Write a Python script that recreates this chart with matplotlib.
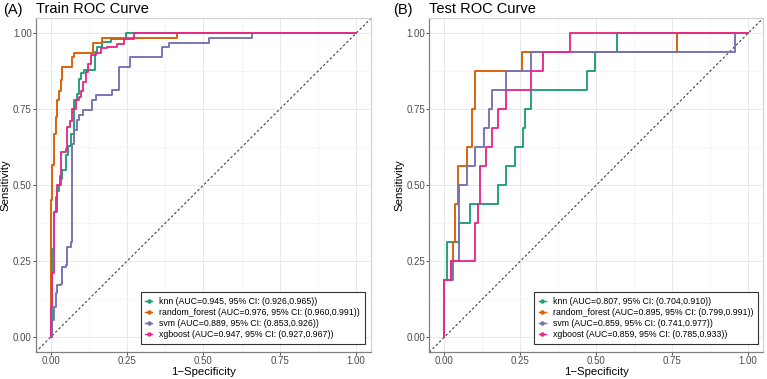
import matplotlib
matplotlib.use("Agg")
import matplotlib.pyplot as plt
from matplotlib.lines import Line2D
from matplotlib.ticker import MultipleLocator

plt.rcParams['font.family'] = ['Liberation Sans', 'DejaVu Sans']

models = ['knn', 'random_forest', 'svm', 'xgboost']
colors = ['#1B9E77', '#D95F02', '#7570B3', '#E7298A']

# ---- Train ROC (step corner points: x where the vertical rise occurs, top y) ----
train_knn_fpr = [0, 0.005, 0.011, 0.022, 0.027, 0.033, 0.038, 0.049, 0.058, 0.065, 0.076, 0.087,
                 0.093, 0.098, 0.109, 0.145, 0.153, 0.169, 0.198, 0.248, 1.0]
train_knn_tpr = [0, 0.29, 0.41, 0.48, 0.50, 0.52, 0.55, 0.60, 0.63, 0.67, 0.78, 0.80,
                 0.85, 0.87, 0.878, 0.938, 0.955, 0.971, 0.982, 1.0, 1.0]

train_rf_fpr = [0, 0, 0.003, 0.009, 0.016, 0.022, 0.027, 0.035, 0.038, 0.071, 0.076, 0.138, 0.167, 0.412, 1.0]
train_rf_tpr = [0, 0.45, 0.566, 0.67, 0.725, 0.78, 0.81, 0.845, 0.889, 0.922, 0.936, 0.968, 0.986, 1.0, 1.0]

train_svm_fpr = [0, 0.005, 0.011, 0.016, 0.022, 0.033, 0.038, 0.049, 0.054, 0.065, 0.068, 0.076, 0.087,
                 0.093, 0.104, 0.136, 0.147, 0.202, 0.225, 0.259, 0.365, 0.387, 0.517, 0.659, 1.0]
train_svm_tpr = [0, 0.056, 0.10, 0.144, 0.171, 0.176, 0.231, 0.237, 0.297, 0.313, 0.637, 0.68, 0.714,
                 0.73, 0.749, 0.78, 0.796, 0.812, 0.889, 0.922, 0.955, 0.968, 0.986, 1.0, 1.0]

train_xgb_fpr = [0, 0, 0.005, 0.011, 0.016, 0.022, 0.030, 0.035, 0.049, 0.054, 0.062, 0.071, 0.082,
                 0.092, 0.098, 0.105, 0.114, 0.122, 0.131, 0.147, 0.163, 0.185, 0.218, 0.240, 0.272, 1.0]
train_xgb_tpr = [0, 0.10, 0.21, 0.41, 0.46, 0.50, 0.53, 0.61, 0.62, 0.69, 0.71, 0.75, 0.78,
                 0.79, 0.81, 0.84, 0.873, 0.90, 0.928, 0.935, 0.95, 0.955, 0.966, 0.982, 1.0, 1.0]

train_labels = [
    'knn (AUC=0.945, 95% CI: (0.926,0.965))',
    'random_forest (AUC=0.976, 95% CI: (0.960,0.991))',
    'svm (AUC=0.889, 95% CI: (0.853,0.926))',
    'xgboost (AUC=0.947, 95% CI: (0.927,0.967))',
]

# ---- Test ROC ----
test_knn_fpr = [0, 0, 0.007, 0.047, 0.083, 0.175, 0.204, 0.231, 0.259, 0.266, 0.285, 0.469, 0.497, 0.57, 1.0]
test_knn_tpr = [0, 0.1875, 0.3125, 0.375, 0.4375, 0.5, 0.5625, 0.625, 0.6875, 0.75, 0.8125, 0.875, 0.9375, 1.0, 1.0]

test_rf_fpr = [0, 0, 0.02, 0.027, 0.036, 0.044, 0.075, 0.091, 0.099, 0.255, 0.765, 1.0]
test_rf_tpr = [0, 0.1875, 0.25, 0.3125, 0.4375, 0.5625, 0.625, 0.75, 0.875, 0.9375, 1.0, 1.0]

test_svm_fpr = [0, 0, 0.027, 0.047, 0.075, 0.102, 0.129, 0.146, 0.157, 0.204, 0.285, 0.957, 1.0]
test_svm_tpr = [0, 0.1875, 0.25, 0.5, 0.5625, 0.625, 0.6875, 0.75, 0.8125, 0.875, 0.9375, 1.0, 1.0]

test_xgb_fpr = [0, 0, 0.02, 0.102, 0.11, 0.118, 0.138, 0.157, 0.175, 0.204, 0.285, 0.325, 0.414, 1.0]
test_xgb_tpr = [0, 0.1875, 0.25, 0.375, 0.4375, 0.5625, 0.625, 0.6875, 0.75, 0.8125, 0.875, 0.9375, 1.0, 1.0]

test_labels = [
    'knn (AUC=0.807, 95% CI: (0.704,0.910))',
    'random_forest (AUC=0.895, 95% CI: (0.799,0.991))',
    'svm (AUC=0.859, 95% CI: (0.741,0.977))',
    'xgboost (AUC=0.859, 95% CI: (0.785,0.933))',
]

ticks = [0.0, 0.25, 0.5, 0.75, 1.0]
tick_labels = ['0.00', '0.25', '0.50', '0.75', '1.00']

W, H = 767, 379
fig = plt.figure(figsize=(W / 100, H / 100), dpi=100)

def px_axes(x0, x1, ytop, ybot):
    return fig.add_axes([x0 / W, 1 - ybot / H, (x1 - x0) / W, (ybot - ytop) / H])

axA = px_axes(35.5, 371.3, 18.1, 352.2)
axB = px_axes(429.3, 763.2, 18.1, 352.2)

def style(ax, title, tag, tag_x, curves, labels, leg_x):
    ax.set_xlim(-0.05, 1.05)
    ax.set_ylim(-0.05, 1.05)
    ax.set_xticks(ticks)
    ax.set_xticklabels(tick_labels)
    ax.set_yticks(ticks)
    ax.set_yticklabels(tick_labels)
    ax.xaxis.set_minor_locator(MultipleLocator(0.125))
    ax.yaxis.set_minor_locator(MultipleLocator(0.125))
    ax.grid(which='major', color='#e9e9e9', lw=0.7)
    ax.grid(which='minor', color='#f1f1f1', lw=0.5)
    ax.set_axisbelow(True)
    ax.tick_params(which='major', length=2.2, width=0.6, color='#333333',
                   labelsize=7, labelcolor='#4d4d4d', pad=0.6)
    ax.tick_params(which='minor', length=0)
    for s in ['left', 'bottom']:
        ax.spines[s].set_color('#808080')
        ax.spines[s].set_linewidth(0.9)
    for s in ['top', 'right']:
        ax.spines[s].set_color('#cfcfcf')
        ax.spines[s].set_linewidth(0.8)
    ax.set_xlabel('1\u2212Specificity', fontsize=8.2, labelpad=0.5)
    ax.set_ylabel('Sensitivity', fontsize=8.2, labelpad=1.5)
    ax.set_title(title, loc='left', fontsize=10.5, pad=4)
    fig.text(tag_x / W, 1 - 14 / H, tag, fontsize=10.5, ha='left', va='baseline')
    # diagonal reference
    ax.plot([-0.05, 1.05], [-0.05, 1.05], color='#404040', lw=0.8,
            linestyle=(0, (2.2, 2.0)), zorder=2)
    handles = []
    for (fx, ty), c, lab in zip(curves, colors, labels):
        ax.step(fx, ty, where='post', color=c, lw=1.35, zorder=3)
        handles.append(Line2D([0], [0], color=c, lw=1.0, marker='o', markersize=2.2))
    leg = ax.legend(handles, labels, loc='lower right', bbox_to_anchor=(leg_x, 0.0245),
                    borderaxespad=0, fontsize=6.3, frameon=True, fancybox=False,
                    edgecolor='#333333', framealpha=1, numpoints=1,
                    handlelength=0.8, handletextpad=0.8, labelspacing=0.25,
                    borderpad=0.55)
    leg.get_frame().set_linewidth(0.8)

style(axA, 'Train ROC Curve', '(A)', 3.5,
      [(train_knn_fpr, train_knn_tpr), (train_rf_fpr, train_rf_tpr),
       (train_svm_fpr, train_svm_tpr), (train_xgb_fpr, train_xgb_tpr)],
      train_labels, 0.981)
style(axB, 'Test ROC Curve', '(B)', 393.5,
      [(test_knn_fpr, test_knn_tpr), (test_rf_fpr, test_rf_tpr),
       (test_svm_fpr, test_svm_tpr), (test_xgb_fpr, test_xgb_tpr)],
      test_labels, 0.985)

fig.savefig('out.png', dpi=100)
